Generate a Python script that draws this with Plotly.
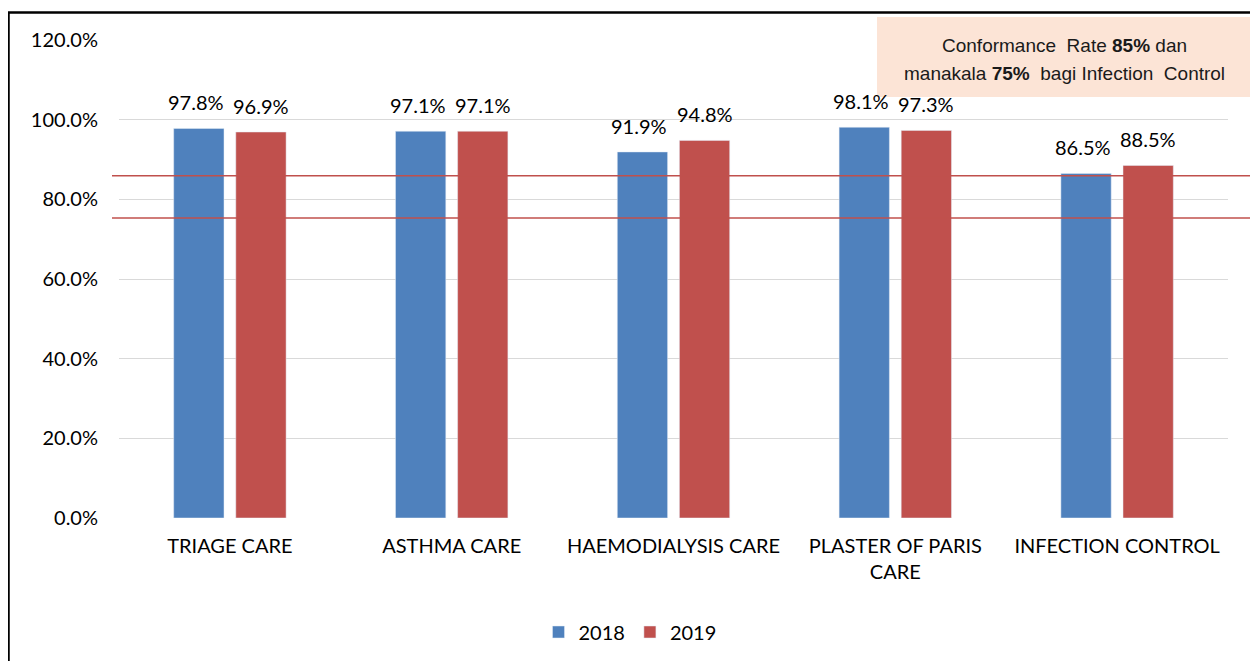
import plotly.graph_objects as go

categories = ["TRIAGE CARE", "ASTHMA CARE", "HAEMODIALYSIS CARE",
              "PLASTER OF PARIS<br>CARE", "INFECTION CONTROL"]
values_2018 = [97.8, 97.1, 91.9, 98.1, 86.5]
values_2019 = [96.9, 97.1, 94.8, 97.3, 88.5]
thresholds = [85.9, 75.3]
y_ticks = [0, 20, 40, 60, 80, 100, 120]
y_tick_labels = ["0.0%", "20.0%", "40.0%", "60.0%", "80.0%", "100.0%", "120.0%"]

OFF = 8  # page body margin
W, H = 1250, 653
L, T = 119 - OFF, 40 - OFF
PR, PB = 1228 - OFF, 518 - OFF  # plot right / bottom in figure px
R, B = W - PR, H - PB
pw, ph = PR - L, PB - T

def px_x(p):
    return (p - OFF - L) / pw

def px_y(p):
    return (PB - (p - OFF)) / ph

FONT = "Lato, 'Noto Sans', sans-serif"
NARROW = "'Liberation Sans Narrow', 'Arial Narrow', sans-serif"

fig = go.Figure()
fig.add_trace(go.Bar(name="2018", x=categories, y=values_2018,
                     marker_color="#4F81BD"))
fig.add_trace(go.Bar(name="2019", x=categories, y=values_2019,
                     marker_color="#C0504D"))

bargap, bargroupgap = 0.44, 0.19
cat_w = pw / len(categories)
slot = cat_w * (1 - bargap) / 2
annotations = []
for vals, sign, extra in ((values_2018, -1, -3), (values_2019, 1, 0)):
    for c, v in zip(categories, vals):
        annotations.append(dict(
            x=c, y=v, xref="x", yref="y", xshift=sign * slot / 2 + extra,
            yshift=12, yanchor="bottom", xanchor="center", showarrow=False,
            text=f"{v:.1f}%", font=dict(size=20, family=FONT, color="#000000")))

annotations.append(dict(
    xref="paper", yref="paper", x=px_x(1064), y=px_y(45),
    xanchor="center", yanchor="middle", showarrow=False,
    text="Conformance  Rate <b>85%</b> dan",
    font=dict(family=NARROW, size=19, color="#1a1a1a")))
annotations.append(dict(
    xref="paper", yref="paper", x=px_x(1064), y=px_y(73),
    xanchor="center", yanchor="middle", showarrow=False,
    text="manakala <b>75%</b>  bagi Infection  Control",
    font=dict(family=NARROW, size=19, color="#1a1a1a")))

shapes = []
for t in thresholds:
    shapes.append(dict(type="line", xref="paper", yref="y",
                       x0=px_x(112), x1=px_x(1256), y0=t, y1=t,
                       line=dict(color="#C0504D", width=1.5), layer="above"))
shapes.append(dict(type="rect", xref="paper", yref="paper",
                   x0=px_x(8.5), x1=px_x(1255), y0=px_y(680), y1=px_y(12.5),
                   line=dict(color="#000000", width=2.5), fillcolor="rgba(0,0,0,0)"))
shapes.append(dict(type="rect", xref="paper", yref="paper",
                   x0=px_x(877), x1=px_x(1250), y0=px_y(97), y1=px_y(17),
                   line=dict(width=0), fillcolor="#FCE4D6", layer="above"))

fig.update_layout(
    width=W, height=H,
    margin=dict(l=L, r=R, t=T, b=B, autoexpand=False),
    paper_bgcolor="white", plot_bgcolor="white",
    barmode="group", bargap=bargap, bargroupgap=bargroupgap,
    font=dict(family=FONT, color="#000000"),
    shapes=shapes, annotations=annotations,
    showlegend=True,
    legend=dict(orientation="h", x=px_x(630), xanchor="center",
                y=px_y(632), yanchor="middle",
                font=dict(size=20, family=FONT), itemwidth=30,
                traceorder="normal"),
    xaxis=dict(showline=False, ticks="", tickfont=dict(size=20, family=FONT),
               showgrid=False, ticklabelstandoff=14),
    yaxis=dict(range=[0, 120], tickvals=y_ticks, ticktext=y_tick_labels,
               showgrid=True, gridcolor="#D9D9D9", gridwidth=1,
               zeroline=False, showline=False, ticks="",
               ticklabelstandoff=20,
               tickfont=dict(size=20, family=FONT)),
)

fig.write_html("out.html")
